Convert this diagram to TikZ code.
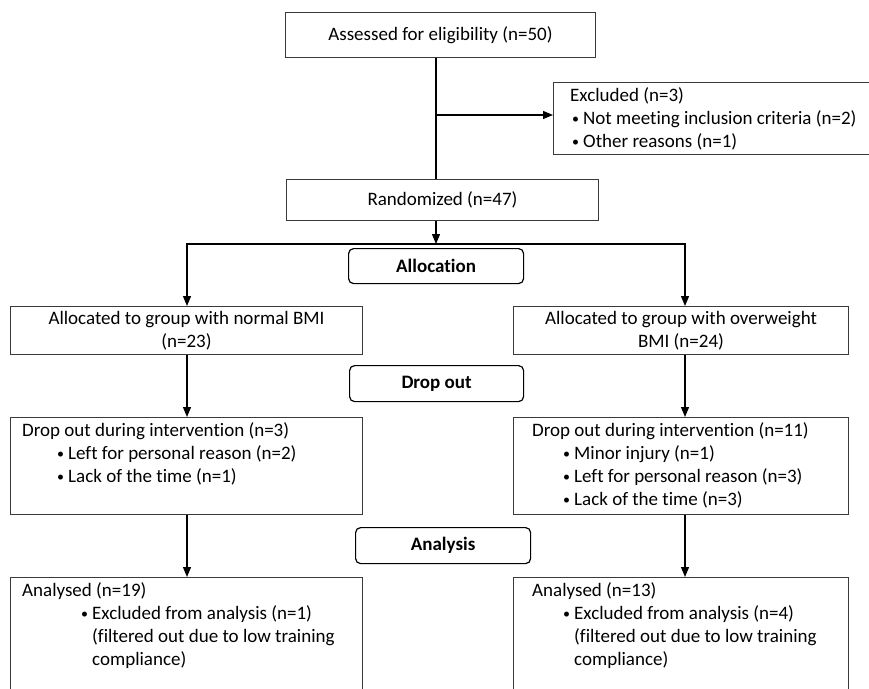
\documentclass[tikz,border=0pt]{standalone}
\usepackage{fontspec}
\setmainfont{Carlito}[Ligatures=NoCommon]
\usetikzlibrary{arrows.meta}
\definecolor{boxc}{HTML}{3A3A3A}
\newcommand\myfs{\fontsize{19}{23}\selectfont}
\newcommand\bul[1]{\hspace*{#1}\makebox[11pt][l]{\raisebox{0.5pt}{\fontsize{14}{14}\selectfont\textbullet}}}
\begin{document}
\begin{tikzpicture}[x=1pt,y=-1pt,
  box/.style={draw=boxc, line width=1pt, rectangle, inner sep=0pt, anchor=north west, align=center, font=\myfs},
  phase/.style={draw=black, line width=1.2pt, rounded corners=5pt, inner sep=0pt, anchor=north west, font=\myfs\bfseries},
  txt/.style={inner sep=0pt, anchor=north west, align=left, font=\myfs},
  arr/.style={line width=1.2pt, -{Triangle[length=10pt,width=8pt]}},
  ln/.style={line width=1.2pt}
]
\useasboundingbox (0,0) rectangle (869,688);
% boxes
\node[box, minimum width=310pt, minimum height=45pt] (assess) at (285,12) {Assessed for eligibility (n=50)};
\node[box, minimum width=340pt, minimum height=72pt] (excl) at (553,82) {};
\node[box, minimum width=312pt, minimum height=41pt] (rand) at (286,179) {Randomized (n=47)};
\node[phase, minimum width=175pt, minimum height=35pt] (alloc) at (348,248) {Allocation};
\node[box, minimum width=352pt, minimum height=48pt] (a1) at (10,306) {Allocated to group with normal BMI\\(n=23)};
\node[box, minimum width=335pt, minimum height=48pt] (a2) at (513,306) {Allocated to group with overweight\\BMI (n=24)};
\node[phase, minimum width=174pt, minimum height=36pt] (dph) at (349,365) {Drop out};
\node[box, minimum width=352pt, minimum height=97pt] (d1) at (10,417) {};
\node[box, minimum width=335pt, minimum height=97pt] (d2) at (513,417) {};
\node[phase, minimum width=175pt, minimum height=36pt] (aph) at (355,527) {Analysis};
\node[box, minimum width=352pt, minimum height=130pt] (n1) at (10,577) {};
\node[box, minimum width=335pt, minimum height=130pt] (n2) at (513,577) {};
% texts
\node[txt] (exclt) at (570,85) {\strut Excluded (n=3)\\\bul{2pt}Not meeting inclusion criteria (n=2)\\\bul{2pt}Other reasons (n=1)};
\node[txt] (d1t) at (22,420) {\strut Drop out during intervention (n=3)\\\bul{35pt}Left for personal reason (n=2)\\\bul{35pt}Lack of the time (n=1)};
\node[txt] (d2t) at (532,420) {\strut Drop out during intervention (n=11)\\\bul{31pt}Minor injury (n=1)\\\bul{31pt}Left for personal reason (n=3)\\\bul{31pt}Lack of the time (n=3)};
\node[txt] (n1t) at (22,580) {\strut Analysed (n=19)\\\bul{59pt}Excluded from analysis (n=1)\\\hspace*{70pt}(filtered out due to low training\\\hspace*{70pt}compliance)};
\node[txt] (n2t) at (532,580) {\strut Analysed (n=13)\\\bul{31pt}Excluded from analysis (n=4)\\\hspace*{42pt}(filtered out due to low training\\\hspace*{42pt}compliance)};
% connectors
\coordinate (j1) at (436,115);
\coordinate (j2) at (436,244);
\coordinate (hl) at (187,244);
\coordinate (hr) at (685,244);
\draw[ln] (assess.south -| j1) -- (rand.north -| j1);
\draw[arr] (j1) -- (excl.west |- j1);
\draw[arr] (rand.south -| j1) -- (j2);
\draw[arr] (hr) -- (hl) -- (a1.north -| hl);
\draw[arr, line cap=rect] (hr) -- (a2.north -| hr);
\draw[arr] (a1.south -| hl) -- (d1.north -| hl);
\draw[arr] (a2.south -| hr) -- (d2.north -| hr);
\draw[arr] (d1.south -| hl) -- (n1.north -| hl);
\draw[arr] (d2.south -| hr) -- (n2.north -| hr);
\end{tikzpicture}
\end{document}
